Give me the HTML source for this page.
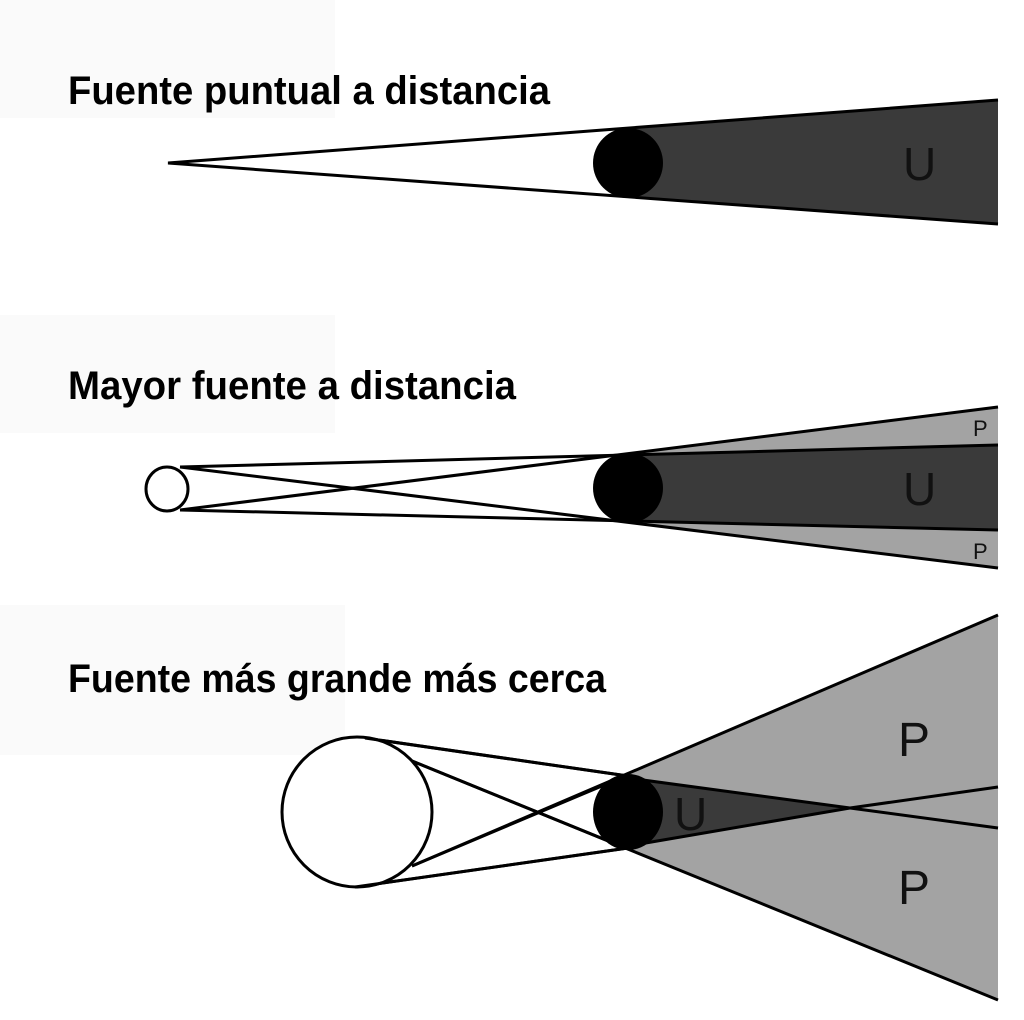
<!DOCTYPE html>
<html><head><meta charset="utf-8"><style>
html,body{margin:0;padding:0;background:#fff;}
svg{display:block;}
text{font-family:"Liberation Sans",sans-serif;}
.t{font-weight:bold;font-size:40px;fill:#000;}
</style></head><body>
<svg width="1024" height="1020" viewBox="0 0 1024 1020" xmlns="http://www.w3.org/2000/svg">
<rect x="0" y="0" width="335" height="118" fill="#fafafa"/>
<rect x="0" y="315" width="335" height="118" fill="#fafafa"/>
<rect x="0" y="605" width="345" height="150" fill="#fafafa"/>

<!-- Panel 1 -->
<text class="t" x="68" y="104" textLength="482" lengthAdjust="spacingAndGlyphs">Fuente puntual a distancia</text>
<polygon points="628,128 998,100 998,224 628,198" fill="#3a3a3a"/>
<g stroke="#000" stroke-width="3" fill="none">
<polyline points="998,100 168,163 998,224"/>
</g>
<ellipse cx="628" cy="163" rx="35" ry="35" fill="#000"/>
<text x="903" y="180" font-size="46" fill="#111">U</text>

<!-- Panel 2 -->
<text class="t" x="68" y="399" textLength="448" lengthAdjust="spacingAndGlyphs">Mayor fuente a distancia</text>
<polygon points="620,455 998,407 998,568 620,522" fill="#a3a3a3"/>
<polygon points="620,455 998,445 998,530 620,522" fill="#3a3a3a"/>
<g stroke="#000" stroke-width="3" fill="none">
<line x1="180" y1="467" x2="998" y2="445"/>
<line x1="180" y1="510" x2="998" y2="530"/>
<line x1="180" y1="467" x2="998" y2="568"/>
<line x1="180" y1="510" x2="998" y2="407"/>
</g>
<ellipse cx="167" cy="489" rx="21" ry="22" fill="#fff" stroke="#000" stroke-width="3"/>
<ellipse cx="628" cy="488" rx="35" ry="35" fill="#000"/>
<text x="903" y="505" font-size="46" fill="#111">U</text>
<text x="973" y="436" font-size="22" fill="#111">P</text>
<text x="973" y="559" font-size="22" fill="#111">P</text>

<!-- Panel 3 -->
<text class="t" x="68" y="692" textLength="538" lengthAdjust="spacingAndGlyphs">Fuente más grande más cerca</text>
<polygon points="625,775 998,615 998,1000 625,848" fill="#a3a3a3"/>
<polygon points="628,778 850,808 628,846" fill="#3a3a3a"/>
<g stroke="#000" stroke-width="3" fill="none">
<line x1="365" y1="738" x2="628" y2="776"/>
<line x1="355" y1="887" x2="628" y2="848"/>
<line x1="412" y1="761" x2="998" y2="1000"/>
<line x1="412" y1="866" x2="998" y2="615"/>
<polyline points="628,778 850,808 998,828"/>
<polyline points="628,846 850,808 998,787"/>
</g>
<circle cx="357" cy="812" r="75" fill="#fff" stroke="#000" stroke-width="3"/>
<g stroke="#000" stroke-width="3" fill="none">
<line x1="365" y1="738" x2="628" y2="776"/>
<line x1="355" y1="887" x2="628" y2="848"/>
<line x1="412" y1="761" x2="628" y2="849"/>
<line x1="412" y1="866" x2="628" y2="775"/>
</g>
<ellipse cx="628" cy="812" rx="35" ry="38" fill="#000"/>
<text x="674" y="830" font-size="46" fill="#111">U</text>
<text x="898" y="756" font-size="48" fill="#111">P</text>
<text x="898" y="904" font-size="48" fill="#111">P</text>
</svg>
</body></html>
